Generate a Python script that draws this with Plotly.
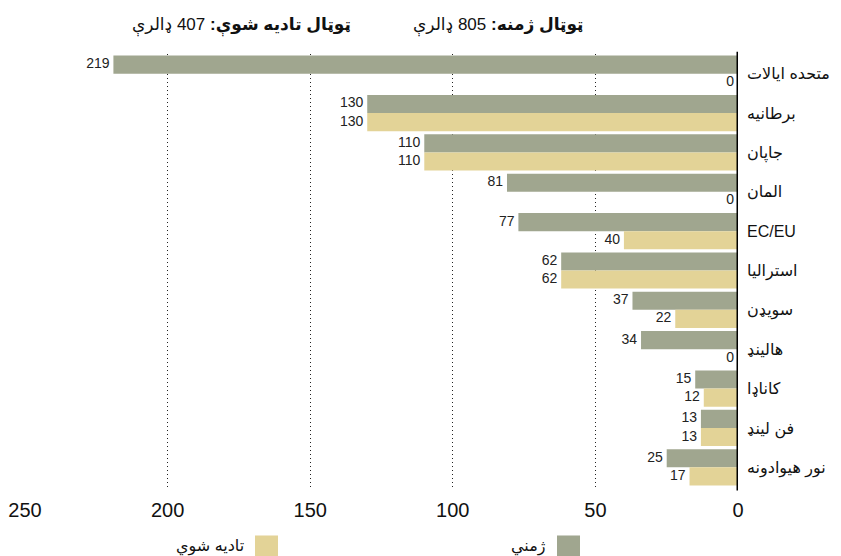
import plotly.graph_objects as go

categories = ["متحده ایالات", "برطانیه", "جاپان", "المان", "EC/EU", "استرالیا",
              "سویډن", "هالینډ", "کاناډا", "فن لینډ", "نور هیوادونه"]
pledged = [219, 130, 110, 81, 77, 62, 37, 34, 15, 13, 25]
paid = [0, 130, 110, 0, 40, 62, 22, 0, 12, 13, 17]
series_names = ["ژمني", "تادیه شوي"]
tick_vals = [0, 50, 100, 150, 200, 250]
title_pledged = "<b>ټوټال ژمنه:</b> 805 ډالرې"
title_paid = "<b>ټوټال تادیه شوې:</b> 407 ډالرې"

c_pledged = "#A0A68F"
c_paid = "#E3D397"
num_font = "Liberation Sans, Arial, sans-serif"
ar_font = "Liberation Sans, DejaVu Sans, sans-serif"

pos = list(range(len(categories)))
bw = 0.46

# page offset of the plot div inside the browser body (default 8px body margin)
OFF = 8
PL, PR, PT, PB = 25, 738, 54.4, 486.6  # plot area in screen pixels
W, H = 841, 556

fig = go.Figure()
for vals, name, col, off in [(pledged, series_names[0], c_pledged, -bw),
                             (paid, series_names[1], c_paid, 0.0)]:
    fig.add_trace(go.Bar(
        y=pos, x=vals, orientation="h", name=name,
        offset=off, width=bw,
        marker=dict(color=col, line=dict(width=0)),
        showlegend=False, hoverinfo="x+name",
    ))
    fig.add_trace(go.Scatter(
        y=[p + off + bw / 2 for p in pos], x=vals, mode="text",
        text=[f"{v}\u00a0" for v in vals], textposition="middle left",
        textfont=dict(family=num_font, size=14, color="#222"),
        cliponaxis=False, showlegend=False, hoverinfo="skip",
    ))

fig.update_layout(
    width=W, height=H,
    margin=dict(l=PL - OFF, r=W - (PR - OFF), t=PT - OFF, b=H - (PB - OFF), autoexpand=False),
    plot_bgcolor="white", paper_bgcolor="white",
    barmode="overlay",
    xaxis=dict(range=[250, 0], tickvals=tick_vals, showgrid=True,
               gridcolor="#222", griddash="1px,3px", gridwidth=1,
               zeroline=False, showline=False, automargin=False,
               ticks="", ticklabelstandoff=9,
               tickfont=dict(family=num_font, size=20, color="#111")),
    yaxis=dict(range=[len(categories) - 0.5, -0.5], side="right", showgrid=False,
               tickvals=pos, ticktext=categories,
               zeroline=False, showline=False, ticks="", automargin=False,
               ticklabelstandoff=8,
               tickfont=dict(family=ar_font, size=16, color="#111")),
)

# zero axis line
fig.add_shape(type="line", xref="x", yref="paper", x0=0, x1=0, y0=-0.008, y1=1.005,
              line=dict(color="black", width=3))

def px_x(p):
    return (p - PL) / (PR - PL)

def px_y(p):
    return (PB - p) / (PB - PT)

# header annotations
fig.add_annotation(text=title_pledged, xref="paper", yref="paper",
                   x=px_x(586), y=px_y(26), xanchor="right", yanchor="middle",
                   showarrow=False, font=dict(family=ar_font, size=17, color="#111"))
fig.add_annotation(text=title_paid, xref="paper", yref="paper",
                   x=px_x(353), y=px_y(26), xanchor="right", yanchor="middle",
                   showarrow=False, font=dict(family=ar_font, size=17, color="#111"))

# manual legend (marker on right of label)
for name, col, sq_left, txt_right in [(series_names[0], c_pledged, 557, 548),
                                       (series_names[1], c_paid, 255, 246)]:
    fig.add_shape(type="rect", xref="paper", yref="paper",
                  x0=px_x(sq_left), x1=px_x(sq_left + 23), y0=px_y(535), y1=px_y(558),
                  fillcolor=col, line=dict(width=0))
    fig.add_annotation(text=name, xref="paper", yref="paper",
                       x=px_x(txt_right), y=px_y(546), xanchor="right", yanchor="middle",
                       showarrow=False, font=dict(family=ar_font, size=16, color="#111"))

fig.write_html("out.html")
